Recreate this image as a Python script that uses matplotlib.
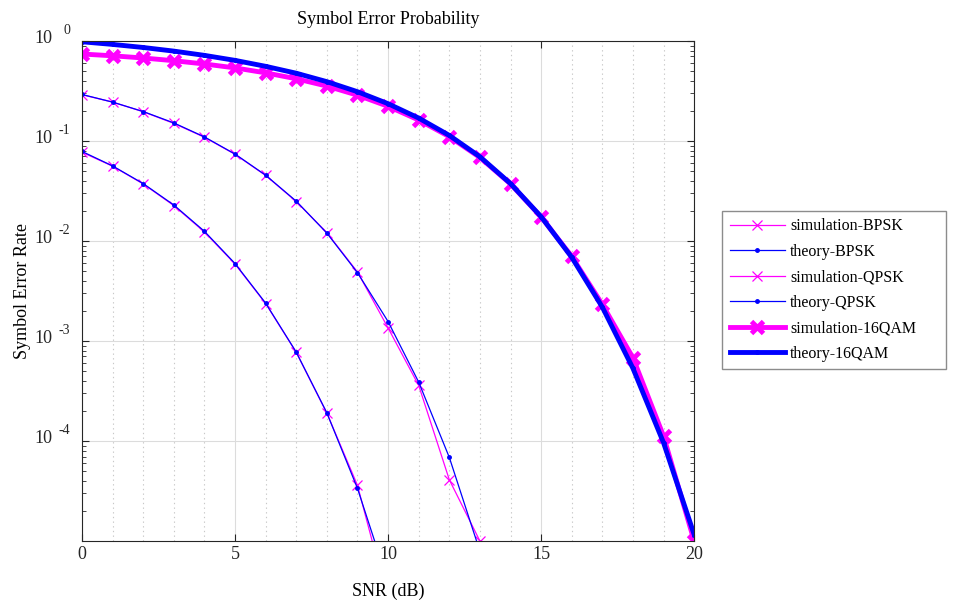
import numpy as np
import matplotlib
matplotlib.use('Agg')
import matplotlib.pyplot as plt
from matplotlib.ticker import FixedLocator, LogLocator, MultipleLocator, NullFormatter
import matplotlib.transforms as mtransforms

plt.rcParams['font.family'] = 'Liberation Serif'

#%% data
snr_db = list(range(0, 21))

bpsk_sim = [0.0772, 0.0560, 0.0372, 0.0226, 0.0123, 0.00588, 0.00237, 0.000770,
            0.000190, 3.6e-5, 2.5e-6]
bpsk_th = [0.0786, 0.0563, 0.0375, 0.0229, 0.0125, 0.00595, 0.00239, 0.000773,
           0.000191, 3.36e-5, 3.87e-6]

qpsk_sim = [0.290, 0.245, 0.196, 0.150, 0.109, 0.0736, 0.0452, 0.0248, 0.0121,
            0.00490, 0.00135, 0.000360, 4.1e-5, 1.0e-5]
qpsk_th = [0.292, 0.2447, 0.197, 0.1516, 0.1098, 0.0740, 0.0455, 0.0250, 0.0120,
           0.00482, 0.001565, 0.000388, 6.86e-5, 7.9e-6]

qam_sim = [0.741, 0.711, 0.676, 0.635, 0.589, 0.538, 0.480, 0.419, 0.354, 0.287,
           0.222, 0.162, 0.1105, 0.0684, 0.0372, 0.0174, 0.0070, 0.00232,
           0.00068, 0.000112, 1.0e-5]
qam_th = [0.982, 0.924, 0.861, 0.792, 0.718, 0.640, 0.558, 0.476, 0.392, 0.311,
          0.236, 0.1695, 0.1137, 0.0696, 0.0375, 0.0175, 0.00687, 0.00218,
          0.000533, 9.6e-5, 1.16e-5]

ytick_vals = [1e0, 1e-1, 1e-2, 1e-3, 1e-4]
ytick_exps = ['0', '-1', '-2', '-3', '-4']

#%% plot
fig = plt.figure(figsize=(9.58, 6.01), dpi=100)
ax = fig.add_axes([0.0856, 0.0998, 0.639, 0.832])

mag = '#ff00ff'
blu = '#0000ff'
ax.plot(snr_db[:len(bpsk_sim)], bpsk_sim, marker='x', ls='-', color=mag, lw=0.9, ms=7, mew=0.9, label='simulation-BPSK')
ax.plot(snr_db[:len(bpsk_th)], bpsk_th, marker='.', ls='-', color=blu, lw=0.9, ms=5, label='theory-BPSK')
ax.plot(snr_db[:len(qpsk_sim)], qpsk_sim, marker='x', ls='-', color=mag, lw=0.9, ms=7, mew=0.9, label='simulation-QPSK')
ax.plot(snr_db[:len(qpsk_th)], qpsk_th, marker='.', ls='-', color=blu, lw=0.9, ms=5, label='theory-QPSK')
ax.plot(snr_db, qam_sim, marker='x', ls='-', color=mag, lw=3.5, ms=8, mew=3.5, label='simulation-16QAM')
ax.plot(snr_db, qam_th, marker='.', ls='-', color=blu, lw=3.5, ms=5, label='theory-16QAM')

ax.set_yscale('log')
ax.set_xlim(0, 20)
ax.set_ylim(1e-5, 1)
ax.set_xticks([0, 5, 10, 15, 20])
ax.xaxis.set_minor_locator(MultipleLocator(1))
ax.yaxis.set_major_locator(FixedLocator(ytick_vals))
ax.set_yticklabels([''] * len(ytick_vals))
ax.yaxis.set_minor_locator(LogLocator(base=10, subs=np.arange(2, 10)))
ax.yaxis.set_minor_formatter(NullFormatter())

# MATLAB style "10 -1" labels
trans = mtransforms.blended_transform_factory(ax.transAxes, ax.transData)
for v, e in zip(ytick_vals, ytick_exps):
    ax.text(-0.049, v * 10 ** 0.025, '10', transform=trans, ha='right', va='center', fontsize=13, color='#262626')
    ax.text(-0.019, v * 10 ** 0.105, e, transform=trans, ha='right', va='center', fontsize=10, color='#262626')

ax.tick_params(which='both', direction='in', top=True, right=True, labelsize=13, colors='#262626')
ax.tick_params(which='major', length=5)
ax.tick_params(axis='y', which='minor', length=3)
ax.tick_params(axis='x', which='minor', length=0)
for s in ax.spines.values():
    s.set_color('#262626')

ax.grid(True, which='major', color='#dcdcdc', lw=0.8, ls='-')
ax.grid(True, which='minor', axis='x', color='#c8c8c8', lw=0.8, ls=(0, (1.2, 3)))
ax.set_axisbelow(True)

ax.set_title('Symbol Error Probability', fontsize=13, pad=12)
ax.set_xlabel('SNR (dB)', fontsize=13, labelpad=14)
ax.set_ylabel('Symbol Error Rate', fontsize=13)
ax.yaxis.set_label_coords(-0.083, 0.5)

leg = ax.legend(loc='upper left', bbox_to_anchor=(0.754, 0.0, 0.233, 0.649), bbox_transform=fig.transFigure,
                mode='expand', fontsize=11.5, fancybox=False, edgecolor='#707070', handlelength=3.5,
                labelspacing=0.6, borderpad=0.45, handletextpad=0.3, borderaxespad=0)
leg.get_frame().set_linewidth(1.0)

plt.savefig('out.png', dpi=100)
